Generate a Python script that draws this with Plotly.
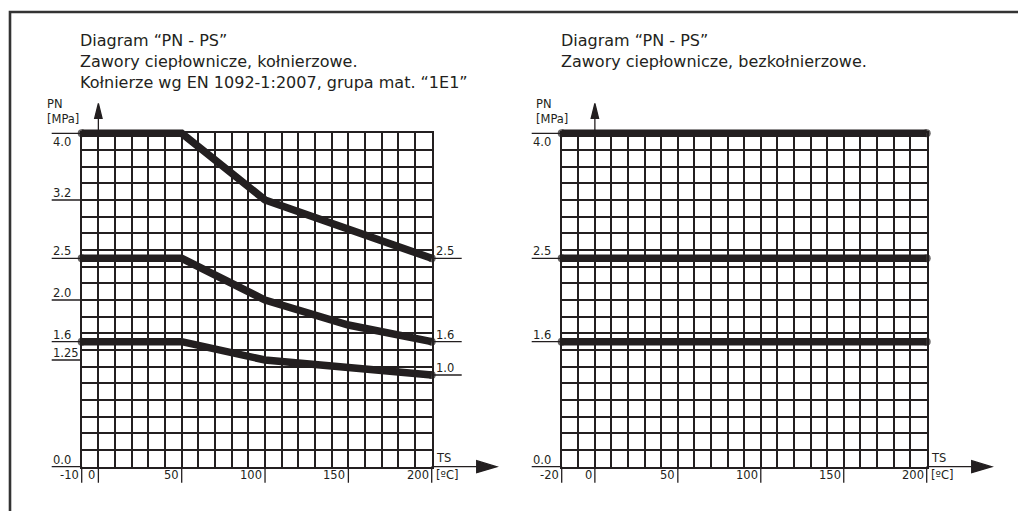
import plotly.graph_objects as go

W, H = 1018, 511
INK = "#231f20"
FONT = "DejaVu Sans"

# ---------------- data (values read on the uniform 0.2 MPa grid) ----------------
# Left chart: flanged valves
ts_flanged = [-10, 50, 100, 150, 200]
pn_flanged_40 = [4.0, 4.0, 3.2, 2.85, 2.5]
pn_flanged_25 = [2.5, 2.5, 2.0, 1.7, 1.5]
pn_flanged_16 = [1.5, 1.5, 1.28, 1.19, 1.1]

left_ts_ticks = [-10, 0, 50, 100, 150, 200]
left_ts_text = ["-10", "0", "50", "100", "150", "200"]
left_pn_levels = [4.0, 3.2, 2.5, 2.0, 1.5, 1.28, 0.0]
left_pn_text = ["4.0", "3.2", "2.5", "2.0", "1.6", "1.25", "0.0"]
left_end_levels = [2.5, 1.5, 1.1]
left_end_text = ["2.5", "1.6", "1.0"]

# Right chart: flangeless valves
ts_flangeless = [-20, 200]
pn_flangeless_40 = [4.0, 4.0]
pn_flangeless_25 = [2.5, 2.5]
pn_flangeless_16 = [1.5, 1.5]

right_ts_ticks = [-20, 0, 50, 100, 150, 200]
right_ts_text = ["-20", "0", "50", "100", "150", "200"]
right_pn_levels = [4.0, 2.5, 1.5, 0.0]
right_pn_text = ["4.0", "2.5", "1.6", "0.0"]

left_title = "Diagram “PN - PS”<br>Zawory ciepłownicze, kołnierzowe.<br>Kołnierze wg EN 1092-1:2007, grupa mat. “1E1”"
right_title = "Diagram “PN - PS”<br>Zawory ciepłownicze, bezkołnierzowe."

# ---------------- layout geometry (pixels) ----------------
GRID_TOP, GRID_BOTTOM = 133.3, 466.7
PN_RANGE = [0.0, 4.0]
PAD_T, PAD_B, PAD_L, PAD_R = 40, 40, 40, 70
LBL = 11.5

charts = [
    dict(gx="x", gy="y", cx="x3", cy="y3", px0=81.7, px1=431.7,
         ts_range=[-10, 200], title=left_title, title_x=78, pn_dx=-37,
         ticks=left_ts_ticks, ticktext=left_ts_text,
         levels=left_pn_levels, leveltext=left_pn_text,
         series=[(ts_flanged, pn_flanged_40), (ts_flanged, pn_flanged_25), (ts_flanged, pn_flanged_16)],
         ends=(left_end_levels, left_end_text)),
    dict(gx="x2", gy="y2", cx="x4", cy="y4", px0=561.7, px1=926.7,
         ts_range=[-20, 200], title=right_title, title_x=559, pn_dx=-28,
         ticks=right_ts_ticks, ticktext=right_ts_text,
         levels=right_pn_levels, leveltext=right_pn_text,
         series=[(ts_flangeless, pn_flangeless_40), (ts_flangeless, pn_flangeless_25), (ts_flangeless, pn_flangeless_16)],
         ends=None),
]

fig = go.Figure()
layout = dict(width=W, height=H, margin=dict(l=0, r=0, t=0, b=0),
              paper_bgcolor="white", plot_bgcolor="rgba(0,0,0,0)",
              showlegend=False, font=dict(family=FONT, color=INK))
shapes, annotations = [], []

grid_common = dict(showgrid=True, gridcolor=INK, gridwidth=1.5, showline=True,
                   linecolor=INK, linewidth=1.5, mirror=True, zeroline=False,
                   showticklabels=False, ticks="", fixedrange=True)

def axkey(a):
    return "xaxis" + a[1:] if a.startswith("x") else "yaxis" + a[1:]

y_dom = [1 - GRID_BOTTOM / H, 1 - GRID_TOP / H]
sy = (GRID_BOTTOM - GRID_TOP) / (PN_RANGE[1] - PN_RANGE[0])
cy_range = [PN_RANGE[0] - PAD_B / sy, PN_RANGE[1] + PAD_T / sy]
cy_dom = [1 - (GRID_BOTTOM + PAD_B) / H, 1 - (GRID_TOP - PAD_T) / H]

for c in charts:
    tmin, tmax = c["ts_range"]
    sx = (c["px1"] - c["px0"]) / (tmax - tmin)
    layout[axkey(c["gx"])] = dict(grid_common, domain=[c["px0"] / W, c["px1"] / W],
                                  range=[tmin, tmax], tick0=0, dtick=10, anchor=c["gy"])
    layout[axkey(c["gy"])] = dict(grid_common, domain=y_dom, range=PN_RANGE,
                                  tick0=0, dtick=0.2, anchor=c["gx"])
    layout[axkey(c["cx"])] = dict(visible=False, fixedrange=True, anchor=c["cy"],
                                  domain=[(c["px0"] - PAD_L) / W, (c["px1"] + PAD_R) / W],
                                  range=[tmin - PAD_L / sx, tmax + PAD_R / sx])
    layout[axkey(c["cy"])] = dict(visible=False, fixedrange=True, anchor=c["cx"],
                                  domain=cy_dom, range=cy_range)
    # dummy trace so the grid subplot exists
    fig.add_trace(go.Scatter(x=[tmin], y=[PN_RANGE[0]], xaxis=c["gx"], yaxis=c["gy"],
                             mode="markers", marker=dict(opacity=0), hoverinfo="skip"))
    # curves
    for xs, ys in c["series"]:
        n = len(xs)
        fig.add_trace(go.Scatter(x=xs, y=ys, xaxis=c["cx"], yaxis=c["cy"], mode="lines+markers",
                                 line=dict(color=INK, width=7.5),
                                 marker=dict(color=INK, line=dict(width=0),
                                             size=[8 if i in (0, n - 1) else 0 for i in range(n)]),
                                 hoverinfo="skip"))
    ref = dict(xref=c["cx"], yref=c["cy"])
    # PN level underlines + labels (left side)
    for lv, tx in zip(c["levels"], c["leveltext"]):
        shapes.append(dict(type="line", **ref, xsizemode="pixel", xanchor=tmin, x0=-30, x1=0,
                           y0=lv, y1=lv, line=dict(color=INK, width=1.3)))
        below = lv == PN_RANGE[1]
        annotations.append(dict(x=tmin, y=lv, **ref, text=tx, showarrow=False,
                                xanchor="left", xshift=-31,
                                yanchor="top" if below else "bottom",
                                yshift=0 if below else -2,
                                font=dict(size=LBL, color=INK)))
    # end labels (right side)
    if c["ends"]:
        for lv, tx in zip(*c["ends"]):
            shapes.append(dict(type="line", **ref, xsizemode="pixel", xanchor=tmax, x0=0, x1=30,
                               y0=lv, y1=lv, line=dict(color=INK, width=1.3)))
            annotations.append(dict(x=tmax, y=lv, **ref, text=tx, showarrow=False,
                                    xanchor="left", xshift=2, yanchor="bottom", yshift=-2,
                                    font=dict(size=LBL, color=INK)))
    # TS tick marks + labels
    for tv, tx in zip(c["ticks"], c["ticktext"]):
        shapes.append(dict(type="line", **ref, ysizemode="pixel", yanchor=0, y0=0, y1=-16,
                           x0=tv, x1=tv, line=dict(color=INK, width=1.3)))
        annotations.append(dict(x=tv, y=0, **ref, text=tx, showarrow=False,
                                xanchor="right", xshift=-1, yanchor="top", yshift=1,
                                font=dict(size=LBL, color=INK)))
    annotations.append(dict(x=tmax, y=0, **ref, text="[ºC]", showarrow=False,
                            xanchor="left", xshift=2, yanchor="top", yshift=1,
                            font=dict(size=LBL, color=INK)))
    annotations.append(dict(x=tmax, y=0, **ref, text="TS", showarrow=False,
                            xanchor="left", xshift=2, yanchor="bottom", yshift=0,
                            font=dict(size=LBL, color=INK)))
    # axis arrows
    shapes.append(dict(type="path", **ref, xsizemode="pixel", ysizemode="pixel",
                       xanchor=tmax, yanchor=0,
                       path="M0,0 H45 V6 L65,0 L45,-6 V0 Z",
                       fillcolor=INK, line=dict(color=INK, width=1.3)))
    shapes.append(dict(type="path", **ref, xsizemode="pixel", ysizemode="pixel",
                       xanchor=0, yanchor=PN_RANGE[1],
                       path="M0,0 V15 H-3.7 L0,30 L3.7,15 H0 Z",
                       fillcolor=INK, line=dict(color=INK, width=1.3)))
    # PN [MPa]
    annotations.append(dict(x=tmin, y=PN_RANGE[1], **ref, text="PN<br>[MPa]", showarrow=False,
                            xanchor="left", xshift=c["pn_dx"], yanchor="bottom", yshift=5,
                            align="left", font=dict(size=11.5, color=INK)))
    # title
    annotations.append(dict(x=c["title_x"] / W, y=1 - 29 / H, xref="paper", yref="paper",
                            text=c["title"], showarrow=False, xanchor="left", yanchor="top",
                            align="left", font=dict(size=16, color=INK)))

# outer frame (left and top edges)
shapes.append(dict(type="path", xref="paper", yref="paper",
                   path=f"M {10/W},0 L {10/W},{1-12/H} L 1.01,{1-12/H}",
                   line=dict(color="#333333", width=2.6)))

layout["shapes"] = shapes
layout["annotations"] = annotations
fig.update_layout(**layout)
fig.write_html("out.html")
